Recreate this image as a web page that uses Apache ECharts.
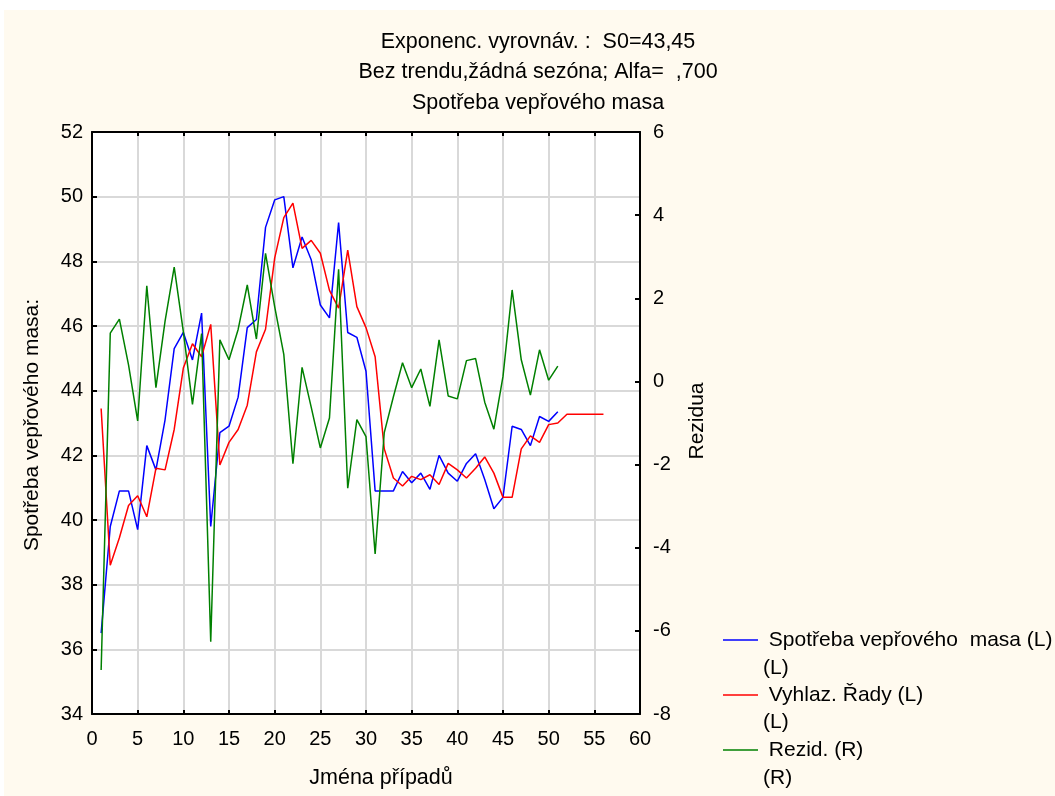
<!DOCTYPE html>
<html>
<head>
<meta charset="utf-8">
<script src="https://cdn.jsdelivr.net/npm/echarts@6/dist/echarts.min.js"></script>
<style>
  html, body { margin: 0; padding: 0; background: #ffffff; }
  #chart { position: absolute; left: 4px; top: 10px; width: 1051px; height: 786px; }
</style>
</head>
<body>
<div id="chart"></div>
<script>
// Pork consumption per case, its exponentially smoothed values (alpha 0.7) and residuals
const observed = [36.5, 39.8, 40.9, 40.9, 39.7, 42.3, 41.55, 43.1, 45.3, 45.8,
  44.95, 46.4, 39.8, 42.7, 42.9, 43.8, 45.95, 46.2, 49.05, 49.9,
  50.0, 47.8, 48.75, 48.05, 46.65, 46.25, 49.2, 45.8, 45.65, 44.6,
  40.9, 40.9, 40.9, 41.5, 41.15, 41.45, 40.95, 42.0, 41.45, 41.2,
  41.75, 42.05, 41.25, 40.35, 40.7, 42.9, 42.8, 42.3, 43.2, 43.05, 43.35];
const smoothed = [43.45, 38.6, 39.45, 40.45, 40.75, 40.1, 41.6, 41.55, 42.8, 44.7,
  45.45, 45.05, 46.05, 41.7, 42.4, 42.8, 43.55, 45.2, 45.9, 48.1,
  49.35, 49.8, 48.4, 48.65, 48.25, 47.1, 46.55, 48.35, 46.6, 45.95,
  45.05, 42.2, 41.3, 41.05, 41.35, 41.25, 41.4, 41.1, 41.75, 41.55,
  41.3, 41.6, 41.95, 41.45, 40.7, 40.7, 42.2, 42.6, 42.4, 42.95,
  43.0, 43.27, 43.27, 43.27, 43.27, 43.27];
const residuals = [-6.94, 1.16, 1.5, 0.4, -0.95, 2.3, -0.15, 1.45, 2.75, 1.2,
  -0.55, 1.15, -6.26, 1.0, 0.52, 1.25, 2.32, 1.02, 3.08, 1.8,
  0.65, -1.98, 0.34, -0.62, -1.6, -0.88, 2.7, -2.57, -0.92, -1.33,
  -4.15, -1.23, -0.37, 0.45, -0.15, 0.3, -0.6, 1.0, -0.35, -0.42,
  0.5, 0.55, -0.5, -1.15, 0.12, 2.2, 0.52, -0.33, 0.76, 0.03, 0.37];

const titleLines = ['Exponenc. vyrovnáv. :  S0=43,45',
                    'Bez trendu,žádná sezóna; Alfa=  ,700',
                    'Spotřeba vepřového masa'];
const seriesNames = ['Spotřeba vepřového  masa (L)', 'Vyhlaz. Řady (L)', 'Rezid. (R)'];
const seriesAxisTags = ['(L)', '(L)', '(R)'];
const seriesColors = ['#0000ff', '#ff0000', '#008000'];
const xAxisName = 'Jména případů';
const leftAxisName = 'Spotřeba vepřového masa:';
const rightAxisName = 'Rezidua';

const FONT = '"Liberation Sans", Arial, sans-serif';
const BLACK = '#000000';

// case number (1-based) paired with each value
const withCase = arr => arr.map((v, i) => [i + 1, v]);

const chart = echarts.init(document.getElementById('chart'), null, { renderer: 'canvas' });

const frameLine = { show: true, onZero: false, lineStyle: { color: BLACK, width: 2 } };
const innerTick = len => ({ show: true, inside: true, length: len, lineStyle: { color: BLACK, width: 2 } });
const tickFont = { color: BLACK, fontSize: 20, fontFamily: FONT };

const textEl = (text, x, y, size, extra) => Object.assign({
  type: 'text', x: x, y: y,
  style: { text: text, fill: BLACK, font: size + 'px ' + FONT, align: 'center', verticalAlign: 'middle' }
}, extra || {});

const graphics = [];
titleLines.forEach((t, i) => graphics.push(textEl(t, 534, [32, 62, 93][i], 21.5)));
graphics.push(textEl(xAxisName, 377, 768, 21.5));
graphics.push(textEl(leftAxisName, 28, 415, 21, { rotation: Math.PI / 2 }));
graphics.push(textEl(rightAxisName, 693, 411, 21, { rotation: Math.PI / 2 }));
// second line of each legend entry: the axis the series belongs to
seriesAxisTags.forEach((t, i) => {
  const el = textEl(t, 759, [658, 712, 768][i], 21);
  el.style.align = 'left';
  graphics.push(el);
});

const option = {
  backgroundColor: '#fffaef',
  animation: false,
  grid: { left: 88, top: 122, width: 548, height: 582, show: true, backgroundColor: '#ffffff', borderWidth: 0 },
  legend: {
    data: seriesNames,
    orient: 'vertical',
    left: 719, top: 618,
    padding: 0,
    icon: 'rect',
    itemWidth: 35, itemHeight: 1.5, itemGap: 31,
    formatter: name => ' ' + name,
    textStyle: { color: BLACK, fontSize: 21, fontFamily: FONT, lineHeight: 24 }
  },
  xAxis: [
    {
      type: 'value', position: 'bottom', min: 0, max: 60, interval: 5,
      axisLine: frameLine, axisTick: innerTick(4),
      axisLabel: Object.assign({ margin: 15 }, tickFont),
      splitLine: { show: true, lineStyle: { color: '#d9d9d9', width: 2 } }
    },
    {
      type: 'value', position: 'top', min: 0, max: 60, interval: 5,
      axisLine: frameLine, axisTick: innerTick(4),
      axisLabel: { show: false }, splitLine: { show: false }
    }
  ],
  yAxis: [
    {
      type: 'value', position: 'left', min: 34, max: 52, interval: 2,
      axisLine: frameLine, axisTick: innerTick(5),
      axisLabel: Object.assign({ margin: 9 }, tickFont),
      splitLine: { show: true, lineStyle: { color: '#d9d9d9', width: 2 } }
    },
    {
      type: 'value', position: 'right', min: -8, max: 6, interval: 2,
      axisLine: frameLine, axisTick: innerTick(5),
      axisLabel: Object.assign({ margin: 13 }, tickFont),
      splitLine: { show: false }
    }
  ],
  series: [
    { name: seriesNames[0], type: 'line', xAxisIndex: 0, yAxisIndex: 0, data: withCase(observed) },
    { name: seriesNames[1], type: 'line', xAxisIndex: 0, yAxisIndex: 0, data: withCase(smoothed) },
    { name: seriesNames[2], type: 'line', xAxisIndex: 0, yAxisIndex: 1, data: withCase(residuals) }
  ].map((s, i) => Object.assign(s, {
    symbol: 'none', color: seriesColors[i],
    lineStyle: { color: seriesColors[i], width: 1.5 }
  })),
  graphic: graphics
};

chart.setOption(option);
</script>
</body>
</html>
